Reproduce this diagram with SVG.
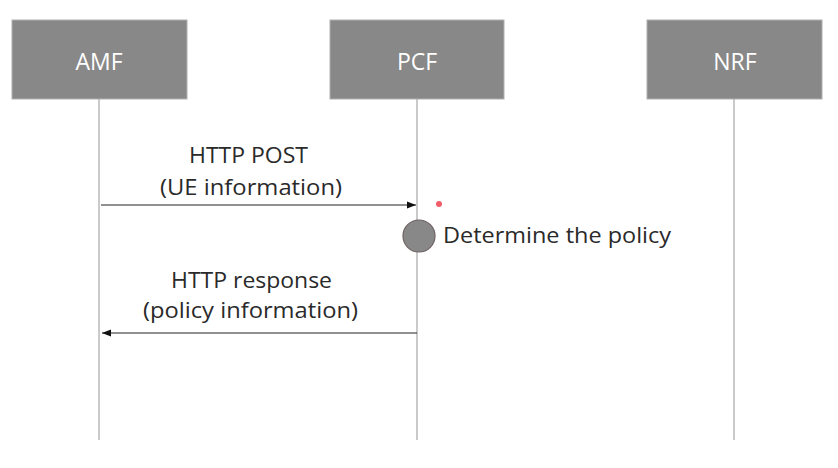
<svg xmlns="http://www.w3.org/2000/svg" width="838" height="468" viewBox="0 0 838 468">
<defs>
<style>
.box{fill:#888888;stroke:#b0b0b0;stroke-width:1}
.bl{font-family:"Open Sans","Liberation Sans",Arial,sans-serif;font-size:23px;fill:#ffffff;text-anchor:middle}
.life{stroke:#b8b8b8;stroke-width:1.5;fill:none}
.msg{stroke:#222;stroke-width:1.2;fill:none}
.t{font-family:"Open Sans","Liberation Sans",Arial,sans-serif;font-size:21px;fill:#2a2a2a}
</style>
<marker id="ah" viewBox="0 0 10 10" refX="10" refY="5" markerWidth="9" markerHeight="9" markerUnits="userSpaceOnUse" orient="auto">
<path d="M0,1 L10,5 L0,9 z" fill="#111"/>
</marker>
</defs>
<rect width="838" height="468" fill="#ffffff"/>
<g id="lifelines">
<line class="life" x1="99" y1="99" x2="99" y2="440"/>
<line class="life" x1="417" y1="99" x2="417" y2="440"/>
<line class="life" x1="734" y1="99" x2="734" y2="440"/>
</g>
<g id="AMF"><rect class="box" x="12" y="20" width="175" height="79"/><text class="bl" x="99" y="70">AMF</text></g>
<g id="PCF"><rect class="box" x="330" y="20" width="174" height="79"/><text class="bl" x="417" y="70">PCF</text></g>
<g id="NRF"><rect class="box" x="647" y="20" width="175" height="79"/><text class="bl" x="735" y="70">NRF</text></g>
<g id="connectors">
<line class="msg" x1="101" y1="205" x2="416" y2="205" marker-end="url(#ah)"/>
<line class="msg" x1="417" y1="333" x2="102" y2="333" marker-end="url(#ah)"/>
</g>
<g id="labels">
<text class="t" x="189" y="163" textLength="119" lengthAdjust="spacingAndGlyphs">HTTP POST</text>
<text class="t" x="160" y="195" textLength="182" lengthAdjust="spacingAndGlyphs">(UE information)</text>
<text class="t" x="171" y="288" textLength="161" lengthAdjust="spacingAndGlyphs">HTTP response</text>
<text class="t" x="143" y="318" textLength="215" lengthAdjust="spacingAndGlyphs">(policy information)</text>
</g>
<g id="determine">
<circle cx="419" cy="236" r="16" fill="#888888" stroke="#6e6262" stroke-width="1.2"/>
<text class="t" x="443" y="243" textLength="228" lengthAdjust="spacingAndGlyphs">Determine the policy</text>
</g>
<circle cx="439" cy="204" r="3" fill="#ee3344" opacity="0.8"/>
</svg>
